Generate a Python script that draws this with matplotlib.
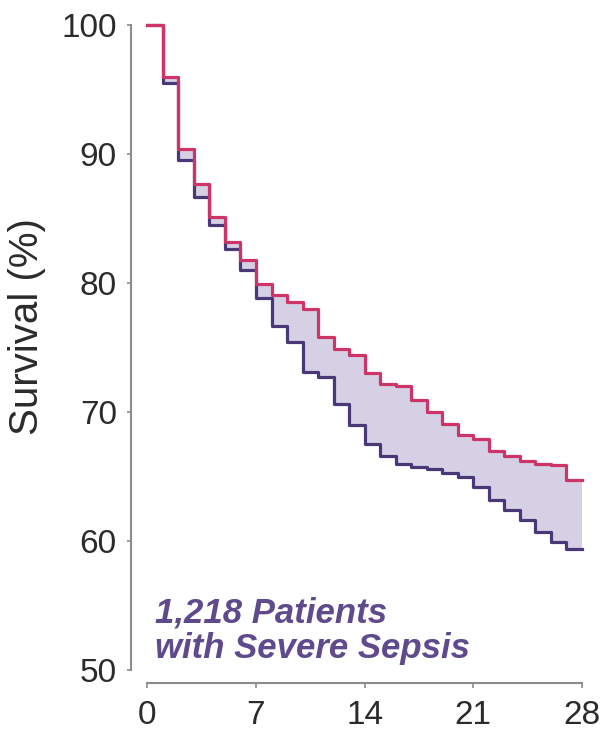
import matplotlib
matplotlib.use("Agg")
import matplotlib.pyplot as plt
import numpy as np

# data (survival %, one value per day, last one repeated)
days = np.arange(0, 29)
upper_surv = [100, 96.0, 90.4, 87.7, 85.1, 83.2, 81.8, 79.9, 79.1, 78.5,
              78.0, 75.8, 74.9, 74.4, 73.0, 72.2, 72.0, 70.9, 70.0, 69.1,
              68.2, 67.9, 67.0, 66.6, 66.2, 66.0, 65.9, 64.7, 64.7]
lower_surv = [100, 95.5, 89.5, 86.7, 84.5, 82.6, 81.0, 78.8, 76.7, 75.4,
              73.1, 72.7, 70.6, 69.0, 67.5, 66.6, 66.0, 65.7, 65.6, 65.3,
              65.0, 64.2, 63.2, 62.4, 61.6, 60.7, 59.9, 59.4, 59.4]
xticks = [0, 7, 14, 21, 28]
yticks = [50, 60, 70, 80, 90, 100]
note_lines = ["1,218 Patients", "with Severe Sepsis"]

# parameter setting
plt.rcParams['font.family'] = ['Liberation Sans', 'DejaVu Sans']
fontsize = 24
lw = 2.3
spine_col = "#8c8c8c"
upper_col = "#cf3468"
lower_col = "#4a3777"
fill_col = "#d5d0e4"
text_col = "#5e4a8c"

fig = plt.figure(figsize=(6.09, 7.31), dpi=100)
ax = fig.add_axes([0.2419, 0.0834, 0.7138, 0.8824])

# shaded gap between the two curves
ax.fill_between(days, lower_surv, upper_surv, step="post", color=fill_col, lw=0)
ax.step(days, lower_surv, where="post", color=lower_col, lw=lw, clip_on=False)
ax.step(days, upper_surv, where="post", color=upper_col, lw=lw, clip_on=False)

ax.set_xlim(0, 28)
ax.set_ylim(50, 100)
ax.set_xticks(xticks)
ax.set_yticks(yticks)

# spines
for side in ["top", "right"]:
    ax.spines[side].set_visible(False)
ax.spines["left"].set_position(("outward", 11.5))
ax.spines["bottom"].set_position(("outward", 9.4))
ax.spines["left"].set_bounds(50, 100)
ax.spines["bottom"].set_bounds(0, 28)
for side in ["left", "bottom"]:
    ax.spines[side].set_color(spine_col)
    ax.spines[side].set_linewidth(1.5)

ax.tick_params(axis="both", labelsize=fontsize, colors=spine_col,
               labelcolor="#2b2b2b", width=1.2, direction="out")
ax.tick_params(axis="y", length=3, pad=7.5)
ax.tick_params(axis="x", length=3.5, pad=8.5)

fig.text(27/609, 1 - 327/731, "Survival (%)", rotation=90, ha="center",
         va="center", fontsize=29, color="#2b2b2b")

# annotation
ax.text(0.5, 53.7, note_lines[0], fontsize=25, fontweight="bold",
        fontstyle="italic", color=text_col, va="baseline")
ax.text(0.5, 50.9, note_lines[1], fontsize=25, fontweight="bold",
        fontstyle="italic", color=text_col, va="baseline")

fig.savefig("out.png", dpi=100)
